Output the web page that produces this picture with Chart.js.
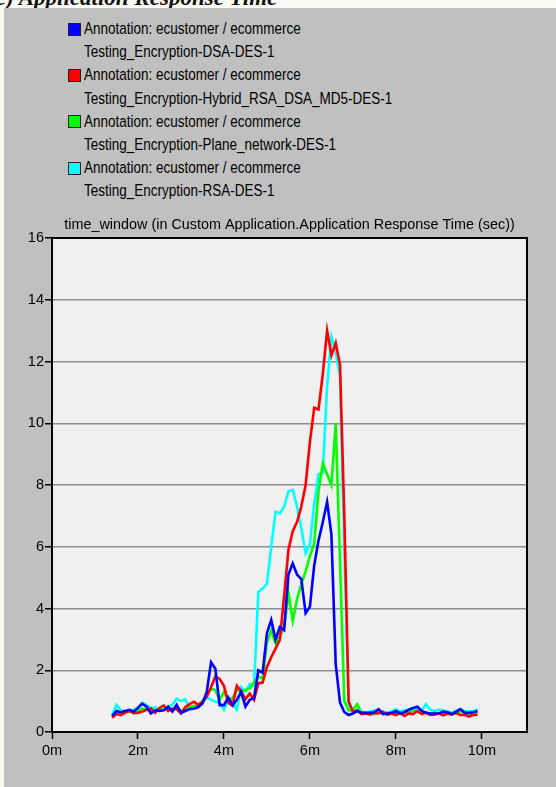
<!DOCTYPE html>
<html>
<head>
<meta charset="utf-8">
<script src="https://cdn.jsdelivr.net/npm/chart.js@4/dist/chart.umd.min.js"></script>
<style>
  html, body { margin: 0; padding: 0; background: #fbfaf5; }
  body { width: 556px; height: 787px; position: relative; overflow: hidden; }
  #topcut { position: absolute; left: 0; top: 0; width: 556px; height: 8px; overflow: hidden; }
  #topcut span { position: absolute; left: -4px; top: -15px; font: italic bold 23px "Liberation Serif", serif; color: #111; white-space: nowrap; }
  #panel { position: absolute; left: 4px; top: 8px; width: 552px; height: 779px; background: #c0c0c0; }
  #legend { position: absolute; left: 0; top: 0; }
  .row { position: absolute; left: 84px; height: 20px; line-height: 20px; white-space: nowrap;
         font-family: "Liberation Sans", Arial, sans-serif; font-size: 13.5px; color: #000;
         transform: scaleY(1.22); transform-origin: 0 50%; }
  .sw { position: absolute; width: 11px; height: 11px; border: 1px solid #222; }
  #wrap { position: absolute; left: 0; top: 200px; width: 556px; height: 587px; }
</style>
</head>
<body>
<div id="topcut"><span>c) Application Response Time</span></div>
<div id="panel"></div>
<div id="legend"></div>
<div id="wrap"><canvas id="chart" width="556" height="587"></canvas></div>
<script>
// time axis in minutes, shared by every series
const times = [1.4, 1.5, 1.6, 1.7, 1.8, 1.9, 2.0, 2.1, 2.2, 2.3,
  2.4, 2.5, 2.6, 2.7, 2.8, 2.9, 3.0, 3.1, 3.2, 3.3,
  3.4, 3.5, 3.6, 3.7, 3.8, 3.9, 4.0, 4.1, 4.2, 4.3,
  4.4, 4.5, 4.6, 4.7, 4.8, 4.9, 5.0, 5.1, 5.2, 5.3,
  5.4, 5.5, 5.6, 5.7, 5.8, 5.9, 6.0, 6.1, 6.2, 6.3,
  6.4, 6.5, 6.6, 6.7, 6.8, 6.9, 7.0, 7.1, 7.2, 7.3,
  7.4, 7.5, 7.6, 7.7, 7.8, 7.9, 8.0, 8.1, 8.2, 8.3,
  8.4, 8.5, 8.6, 8.7, 8.8, 8.9, 9.0, 9.1, 9.2, 9.3,
  9.4, 9.5, 9.6, 9.7, 9.8, 9.9];

const dsaValues = [0.52, 0.68, 0.64, 0.68, 0.72, 0.66, 0.78, 0.92, 0.82, 0.6,
  0.7, 0.68, 0.7, 0.82, 0.66, 0.88, 0.62, 0.68, 0.74, 0.76,
  0.8, 0.92, 1.3, 2.26, 2.05, 0.87, 0.87, 1.12, 0.87, 1.04,
  1.3, 0.82, 1.04, 1.1, 2.0, 1.92, 3.2, 3.63, 3.0, 3.4,
  3.3, 5.1, 5.46, 5.1, 4.95, 3.85, 4.06, 5.4, 6.2, 6.8,
  7.45, 6.4, 2.2, 0.95, 0.65, 0.55, 0.6, 0.68, 0.62, 0.62,
  0.62, 0.64, 0.74, 0.58, 0.6, 0.62, 0.68, 0.6, 0.64, 0.72,
  0.78, 0.82, 0.68, 0.62, 0.6, 0.6, 0.6, 0.66, 0.64, 0.58,
  0.66, 0.74, 0.62, 0.62, 0.64, 0.68];

const hybridValues = [0.46, 0.58, 0.55, 0.62, 0.68, 0.62, 0.62, 0.66, 0.72, 0.76,
  0.62, 0.78, 0.86, 0.68, 0.76, 0.74, 0.6, 0.8, 0.9, 0.98,
  0.88, 0.98, 1.15, 1.45, 1.8, 1.72, 1.5, 0.95, 0.85, 1.5,
  1.32, 1.06, 1.25, 1.04, 1.58, 1.6, 2.11, 2.42, 2.7, 2.98,
  4.4, 5.9, 6.5, 6.8, 7.3, 8.0, 9.4, 10.5, 10.45, 11.6,
  13.0, 12.2, 12.6, 11.9, 7.0, 1.0, 0.65, 0.7, 0.58, 0.6,
  0.56, 0.62, 0.6, 0.66, 0.56, 0.6, 0.55, 0.62, 0.52, 0.6,
  0.58, 0.68, 0.58, 0.62, 0.55, 0.56, 0.6, 0.54, 0.6, 0.56,
  0.62, 0.55, 0.56, 0.5, 0.56, 0.55];

const planeValues = [0.5, 0.62, 0.58, 0.64, 0.7, 0.6, 0.7, 0.76, 0.74, 0.66,
  0.7, 0.74, 0.72, 0.78, 0.7, 0.82, 0.68, 0.74, 0.8, 0.84,
  0.86, 1.0, 1.2, 1.4, 1.36, 1.04, 1.3, 1.04, 1.1, 1.36,
  1.3, 1.36, 1.41, 1.6, 1.79, 1.74, 2.9, 3.3, 2.87, 3.1,
  3.4, 4.5, 3.6, 4.3, 4.8, 5.2, 5.7, 6.1, 7.8, 8.7,
  8.35, 8.0, 10.0, 5.5, 1.0, 0.7, 0.72, 0.9, 0.62, 0.6,
  0.62, 0.58, 0.64, 0.6, 0.62, 0.58, 0.62, 0.6, 0.66, 0.62,
  0.7, 0.66, 0.6, 0.64, 0.58, 0.62, 0.6, 0.64, 0.6, 0.62,
  0.6, 0.68, 0.62, 0.6, 0.62, 0.62];

const rsaValues = [0.55, 0.88, 0.7, 0.66, 0.68, 0.72, 0.8, 0.95, 0.87, 0.78,
  0.8, 0.72, 0.74, 0.82, 0.88, 1.08, 1.0, 1.06, 0.8, 0.74,
  0.82, 0.95, 1.12, 1.04, 0.98, 0.95, 0.72, 1.04, 0.98, 0.72,
  1.45, 1.32, 1.55, 1.5, 4.54, 4.65, 4.8, 6.0, 7.13, 7.08,
  7.3, 7.8, 7.84, 7.3, 6.6, 5.8, 6.1, 7.4, 8.35, 8.4,
  11.2, 12.8, 12.3, 11.5, 6.0, 0.9, 0.68, 0.72, 0.66, 0.64,
  0.66, 0.7, 0.72, 0.64, 0.62, 0.66, 0.74, 0.66, 0.7, 0.72,
  0.78, 0.74, 0.7, 0.9, 0.72, 0.68, 0.72, 0.7, 0.66, 0.62,
  0.7, 0.72, 0.68, 0.66, 0.68, 0.72];

const seriesHeads = ['Annotation: ecustomer / ecommerce', 'Annotation: ecustomer / ecommerce',
  'Annotation: ecustomer / ecommerce', 'Annotation: ecustomer / ecommerce'];
const seriesNames = ['Testing_Encryption-DSA-DES-1', 'Testing_Encryption-Hybrid_RSA_DSA_MD5-DES-1',
  'Testing_Encryption-Plane_network-DES-1', 'Testing_Encryption-RSA-DES-1'];
const seriesColors = ['#0000ff', '#ff0000', '#00ff00', '#00ffff'];
const seriesValues = [dsaValues, hybridValues, planeValues, rsaValues];

const xTicks = [0, 2, 4, 6, 8, 10];
const yTicks = [0, 2, 4, 6, 8, 10, 12, 14, 16];
const chartTitle = 'time_window (in Custom Application.Application Response Time (sec))';

const FONT = '"Liberation Sans", Arial, sans-serif';

// legend (two text lines per series)
(function(){
  const lg = document.getElementById('legend');
  const rowGap = 23.2, firstRow = 29;
  seriesNames.forEach((name, i) => {
    const y1 = firstRow + rowGap * 2 * i, y2 = y1 + rowGap;
    const sw = document.createElement('div');
    sw.className = 'sw'; sw.style.background = seriesColors[i];
    sw.style.left = '68px'; sw.style.top = (y1 - 6.5) + 'px';
    lg.appendChild(sw);
    const a = document.createElement('div');
    a.className = 'row'; a.textContent = seriesHeads[i]; a.style.top = (y1 - 10) + 'px';
    lg.appendChild(a);
    const b = document.createElement('div');
    b.className = 'row'; b.textContent = name; b.style.top = (y2 - 10) + 'px';
    lg.appendChild(b);
  });
})();

const plotFrame = {
  id: 'plotFrame',
  beforeDraw(chart){
    const a = chart.chartArea, c = chart.ctx;
    c.save(); c.fillStyle = '#f0f0f0'; c.fillRect(a.left, a.top, a.right - a.left, a.bottom - a.top); c.restore();
  },
  afterDraw(chart){
    const a = chart.chartArea, c = chart.ctx;
    c.save(); c.strokeStyle = '#000'; c.lineWidth = 2;
    c.strokeRect(a.left, a.top, a.right - a.left, a.bottom - a.top); c.restore();
  }
};

const ctx = document.getElementById('chart').getContext('2d');
new Chart(ctx, {
  type: 'line',
  data: {
    datasets: seriesValues.map((vals, i) => ({
      label: seriesNames[i],
      data: times.map((t, k) => ({ x: t, y: vals[k] })),
      borderColor: seriesColors[i],
      borderWidth: 2.6,
      pointRadius: 0,
      tension: 0,
      fill: false
    }))
  },
  options: {
    responsive: false,
    animation: false,
    layout: { padding: { left: 0, right: 29, top: 0, bottom: 0 } },
    plugins: {
      legend: { display: false },
      tooltip: { enabled: false },
      title: {
        display: true, text: chartTitle, fullSize: false, color: '#000',
        font: { family: FONT, size: 14.4, weight: 'normal', lineHeight: 1.0 },
        padding: { top: 18, bottom: 5.6 }
      }
    },
    scales: {
      x: {
        type: 'linear', min: 0, max: 11.05,
        afterFit: s => { s.height = 55; },
        afterBuildTicks: s => { s.ticks = xTicks.map(v => ({ value: v })); },
        ticks: { color: '#000', font: { family: FONT, size: 14.5 }, padding: 3,
                 callback: v => v + 'm', maxRotation: 0, autoSkip: false },
        grid: { display: true, drawOnChartArea: false, drawTicks: true, tickLength: 7,
                tickColor: '#000', tickWidth: 1.5 },
        border: { display: true, color: '#000', width: 2 }
      },
      y: {
        min: 0, max: 16,
        afterFit: s => { s.width = 52; },
        afterBuildTicks: s => { s.ticks = yTicks.map(v => ({ value: v })); },
        ticks: { color: '#000', font: { family: FONT, size: 14.5 }, padding: 1, autoSkip: false },
        grid: { color: '#8e8e8e', lineWidth: 1.5, drawTicks: true, tickLength: 7,
                tickColor: '#000', tickWidth: 1.5 },
        border: { display: true, color: '#000', width: 2 }
      }
    }
  },
  plugins: [plotFrame]
});
</script>
</body>
</html>
